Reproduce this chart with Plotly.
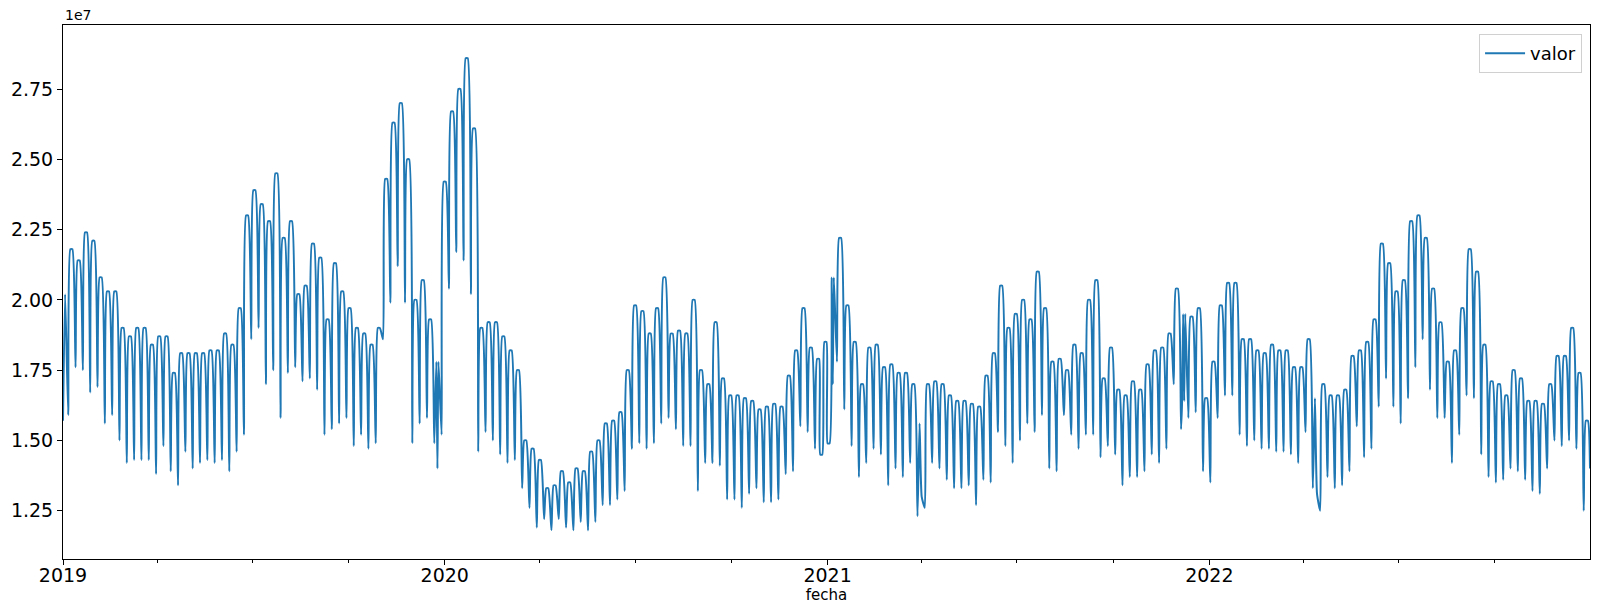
import pandas as pd
import plotly.graph_objects as go

# ---- data (values in units of 1e7, as shown on the axis) ----
primer_lunes = "2018-12-31"          # Monday of the first week
fecha_ini = "2019-01-01"
fecha_fin = "2022-12-31"

# weekday level of each week
pico = [
    2.02, 2.18, 2.14, 2.24, 2.21, 2.08, 2.03, 2.03, 1.90, 1.87,
    1.90, 1.90, 1.84, 1.87, 1.87, 1.74, 1.81, 1.81, 1.81, 1.81,
    1.82, 1.82, 1.88, 1.84, 1.97, 2.30, 2.39, 2.34, 2.28, 2.45,
    2.22, 2.28, 2.02, 2.05, 2.20, 2.15, 1.93, 2.13, 2.03, 1.97,
    1.90, 1.88, 1.84, 1.90, 2.43, 2.63, 2.70, 2.50, 2.00, 2.07,
    1.93, 1.78, 2.42, 2.67, 2.75, 2.86, 2.61, 1.90, 1.92, 1.92,
    1.87, 1.82, 1.75, 1.50, 1.47, 1.43, 1.33, 1.34, 1.39, 1.35,
    1.40, 1.39, 1.46, 1.50, 1.56, 1.57, 1.60, 1.75, 1.98, 1.96,
    1.88, 1.97, 2.08, 1.88, 1.89, 1.88, 2.00, 1.75, 1.70, 1.92,
    1.72, 1.66, 1.66, 1.65, 1.64, 1.61, 1.62, 1.63, 1.62, 1.73,
    1.82, 1.97, 1.83, 1.79, 1.85, 2.08, 2.22, 1.98, 1.85, 1.70,
    1.83, 1.84, 1.76, 1.77, 1.74, 1.74, 1.70, 1.56, 1.70, 1.71,
    1.70, 1.66, 1.64, 1.64, 1.63, 1.62, 1.73, 1.81, 2.05, 1.90,
    1.95, 2.00, 1.93, 2.10, 1.97, 1.78, 1.79, 1.75, 1.84, 1.81,
    2.00, 2.07, 1.72, 1.83, 1.68, 1.66, 1.71, 1.68, 1.77, 1.82,
    1.83, 1.88, 2.04, 1.95, 1.94, 1.97, 1.65, 1.78, 1.98, 2.06,
    2.06, 1.86, 1.86, 1.82, 1.81, 1.84, 1.82, 1.82, 1.76, 1.76,
    1.86, 1.65, 1.70, 1.66, 1.66, 1.68, 1.80, 1.82, 1.85, 1.93,
    2.20, 2.13, 2.03, 2.07, 2.28, 2.30, 2.22, 2.04, 1.92, 1.78,
    1.82, 1.97, 2.18, 2.10, 1.84, 1.71, 1.70, 1.66, 1.75, 1.72,
    1.64, 1.64, 1.63, 1.70, 1.80, 1.80, 1.90, 1.74, 1.57,
]

# Sunday level of each week
valle = [
    1.59, 1.76, 1.75, 1.67, 1.69, 1.56, 1.59, 1.50, 1.42, 1.43,
    1.43, 1.43, 1.38, 1.48, 1.39, 1.34, 1.46, 1.40, 1.42, 1.43,
    1.42, 1.43, 1.39, 1.46, 1.52, 1.86, 1.90, 1.70, 1.75, 1.58,
    1.74, 1.76, 1.71, 1.72, 1.68, 1.52, 1.54, 1.56, 1.58, 1.48,
    1.52, 1.47, 1.49, 1.86, 1.99, 2.12, 1.99, 1.49, 1.56, 1.58,
    1.49, 1.52, 2.04, 2.17, 2.14, 2.02, 1.46, 1.53, 1.50, 1.45,
    1.42, 1.43, 1.33, 1.26, 1.19, 1.22, 1.18, 1.22, 1.19, 1.18,
    1.21, 1.18, 1.21, 1.27, 1.27, 1.29, 1.32, 1.47, 1.49, 1.47,
    1.49, 1.56, 1.58, 1.54, 1.48, 1.48, 1.32, 1.42, 1.42, 1.41,
    1.29, 1.29, 1.26, 1.31, 1.33, 1.28, 1.28, 1.29, 1.38, 1.39,
    1.55, 1.53, 1.47, 1.45, 1.49, 1.78, 1.61, 1.48, 1.37, 1.42,
    1.47, 1.45, 1.34, 1.40, 1.37, 1.42, 1.23, 1.26, 1.42, 1.40,
    1.36, 1.33, 1.33, 1.34, 1.27, 1.36, 1.35, 1.53, 1.48, 1.42,
    1.50, 1.56, 1.53, 1.59, 1.40, 1.39, 1.59, 1.52, 1.47, 1.52,
    1.52, 1.44, 1.48, 1.45, 1.34, 1.37, 1.37, 1.39, 1.45, 1.42,
    1.47, 1.70, 1.54, 1.58, 1.60, 1.39, 1.35, 1.58, 1.66, 1.66,
    1.52, 1.48, 1.50, 1.47, 1.47, 1.46, 1.46, 1.45, 1.42, 1.53,
    1.33, 1.25, 1.37, 1.33, 1.34, 1.39, 1.55, 1.44, 1.47, 1.62,
    1.72, 1.62, 1.56, 1.65, 1.76, 1.86, 1.68, 1.58, 1.58, 1.42,
    1.52, 1.66, 1.65, 1.45, 1.37, 1.35, 1.36, 1.40, 1.39, 1.36,
    1.32, 1.31, 1.40, 1.50, 1.48, 1.50, 1.47, 1.25,
]

# individual days read separately (holidays, first and last day)
festivos_fecha = ["2019-01-01", "2019-12-25", "2020-12-25", "2021-01-01", "2021-01-06",
                  "2021-04-01", "2021-12-06", "2021-12-08", "2022-04-14", "2022-12-31"]
festivos_valor = [1.57, 1.40, 1.45, 1.49, 1.70, 1.30, 1.64, 1.64, 1.31, 1.40]

anios = ["2019", "2020", "2021", "2022"]
y_ticks = [1.25, 1.50, 1.75, 2.00, 2.25, 2.50, 2.75]

# ---- build the series: weekday level on Tue & Thu, Sunday level on Sun ----
serie = {}
lunes0 = pd.Timestamp(primer_lunes)
for w, v in enumerate(pico):
    lun = lunes0 + pd.Timedelta(days=7 * w)
    serie[lun + pd.Timedelta(days=1)] = v
    serie[lun + pd.Timedelta(days=3)] = v
    if w < len(valle):
        serie[lun + pd.Timedelta(days=6)] = valle[w]
for f, v in zip(festivos_fecha, festivos_valor):
    serie[pd.Timestamp(f)] = v
s = pd.Series(serie).sort_index()
s = s[(s.index >= pd.Timestamp(fecha_ini)) & (s.index <= pd.Timestamp(fecha_fin))]

trimestres = [d.strftime("%Y-%m-%d") for d in pd.date_range(fecha_ini, fecha_fin, freq="QS")
              if d.month != 1]

fig = go.Figure(go.Scatter(
    x=s.index, y=s.values, mode="lines", name="valor",
    line=dict(color="#1f77b4", width=2, shape="spline", smoothing=0.5), showlegend=True,
))

fig.update_layout(
    width=1600, height=613,
    margin=dict(l=63, r=10, t=25, b=54),
    paper_bgcolor="white", plot_bgcolor="white",
    font=dict(family="DejaVu Sans", color="black"),
    showlegend=True,
    legend=dict(x=0.9948, y=0.983, xanchor="right", yanchor="top",
                bordercolor="#d0d0d0", borderwidth=1, bgcolor="rgba(255,255,255,0.8)",
                itemwidth=40,
                font=dict(size=18, family="DejaVu Sans", color="black")),
    annotations=[dict(text="1e7", xref="paper", yref="paper", x=0, y=1,
                      xanchor="left", yanchor="bottom", showarrow=False,
                      font=dict(size=14, family="DejaVu Sans", color="black"), yshift=0)],
)

fig.update_xaxes(
    range=[fecha_ini, fecha_fin],
    tickvals=[f"{a}-01-01" for a in anios], ticktext=anios,
    ticks="outside", ticklen=5, tickwidth=1, tickcolor="black",
    showline=True, linecolor="black", linewidth=1, mirror=True,
    showgrid=False, zeroline=False, automargin=False,
    tickfont=dict(size=19), ticklabelstandoff=-6,
    title=dict(text="fecha", font=dict(size=15), standoff=0),
    minor=dict(tickvals=trimestres, ticks="outside", ticklen=3, tickwidth=1,
               tickcolor="black", showgrid=False),
)
fig.update_yaxes(
    range=[1.078, 2.978],
    tickvals=y_ticks, ticktext=[f"{t:.2f}" for t in y_ticks],
    ticks="outside", ticklen=5, tickwidth=1, tickcolor="black",
    showline=True, linecolor="black", linewidth=1, mirror=True,
    showgrid=False, zeroline=False, automargin=False,
    tickfont=dict(size=19),
)

fig.write_html("out.html", config={"displayModeBar": False},
               post_script="document.body.style.margin='0';")
